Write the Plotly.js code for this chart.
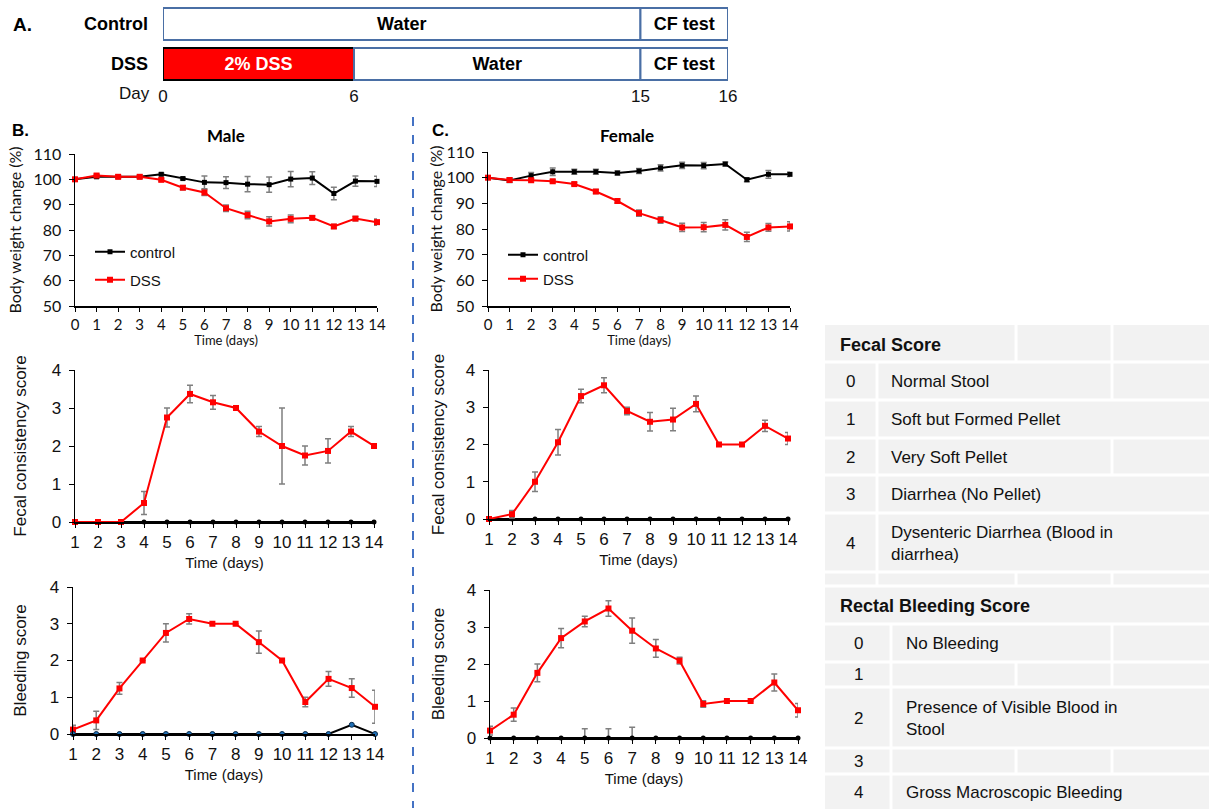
<!DOCTYPE html>
<html><head><meta charset="utf-8">
<script src="https://cdn.plot.ly/plotly-3.0.1.min.js"></script>
<style>html,body{margin:0;padding:0;background:#fff}#chart{width:1209px;height:809px}</style>
</head><body><div id="chart"></div>
<script>
// ================= DATA =================
const weightDays = [0,1,2,3,4,5,6,7,8,9,10,11,12,13,14];
const maleWeightControl    = [100,101,101,101,102,100.3,98.8,98.7,98.1,97.9,100.1,100.5,94.4,99.3,99.2];
const maleWeightControlErr = [0.3,0.5,0.5,0.5,0.5,0.5,2.5,2.3,3,3,3,2.5,2.5,2,2];
const maleWeightDSS        = [100,101.5,101,101,99.8,96.7,94.8,88.6,85.9,83.4,84.4,84.8,81.4,84.5,83.1];
const maleWeightDSSErr     = [0.3,0.5,0.5,0.5,0.5,0.8,1.2,1.3,1.5,1.8,1.5,0.8,0.8,0.8,1.2];
const femaleWeightControl    = [100,98.9,100.8,102.3,102.3,102.3,101.8,102.6,103.8,104.8,104.7,105.3,99.2,101.3,101.3];
const femaleWeightControlErr = [0.4,0.8,1.2,1.5,1,1,0.8,1,1.2,1.2,1.2,0.8,0.8,1.5,0.8];
const femaleWeightDSS        = [100,99.1,99,98.6,97.5,94.6,90.9,86.2,83.5,80.6,80.7,81.6,76.9,80.6,81.0];
const femaleWeightDSSErr     = [0.3,0.8,0.6,0.6,0.6,0.8,0.8,1.2,1.3,1.6,1.8,2,1.8,1.5,1.8];

const scoreDays = [1,2,3,4,5,6,7,8,9,10,11,12,13,14];
const maleFecalControl    = [0,0,0,0,0,0,0,0,0,0,0,0,0,0];
const maleFecalDSS        = [0,0,0,0.5,2.75,3.37,3.15,3.0,2.38,2.0,1.75,1.87,2.38,2.0];
const maleFecalDSSErr     = [0,0,0,0.3,0.25,0.23,0.18,0,0.13,1.0,0.25,0.32,0.13,0];
const femaleFecalControl  = [0,0,0,0,0,0,0,0,0,0,0,0,0,0];
const femaleFecalDSS      = [0,0.13,1.0,2.06,3.3,3.59,2.9,2.61,2.67,3.09,2.0,2.0,2.5,2.16];
const femaleFecalDSSErr   = [0,0.1,0.26,0.34,0.18,0.2,0.1,0.25,0.3,0.21,0,0,0.15,0.16];

const maleBleedControl    = [0,0,0,0,0,0,0,0,0,0,0,0,0.25,0];
const maleBleedDSS        = [0.12,0.37,1.24,2.0,2.75,3.13,3.0,3.0,2.5,2.0,0.87,1.5,1.25,0.74];
const maleBleedDSSErr     = [0.12,0.25,0.16,0,0.25,0.14,0,0,0.3,0,0.13,0.2,0.25,0.45];
const femaleBleedControl    = [0,0,0,0,0,0,0,0,0,0,0,0,0,0];
const femaleBleedControlErr = [0,0,0,0,0.25,0.25,0.29,0,0,0,0,0,0,0];
const femaleBleedDSS      = [0.2,0.63,1.76,2.7,3.15,3.5,2.9,2.42,2.09,0.92,1.0,1.0,1.5,0.75];
const femaleBleedDSSErr   = [0.12,0.18,0.24,0.26,0.14,0.21,0.34,0.24,0.09,0.09,0,0,0.23,0.18];

// Timeline (panel A)
const timelineRows   = ['Control','DSS'];
const segmentRow     = ['Control','Control','DSS','DSS','DSS'];
const segmentStart   = [0,15,0,6,15];
const segmentEnd     = [15,16,6,15,16];
const segmentLabel   = ['Water','CF test','2% DSS','Water','CF test'];
const timelineDays   = [0,6,15,16];

// Score tables
const fecalScores = ['0','1','2','3','4'];
const fecalDescriptions = ['Normal Stool','Soft but Formed Pellet','Very Soft Pellet','Diarrhea (No Pellet)','Dysenteric Diarrhea (Blood in<br>diarrhea)'];
const bleedingScores = ['0','1','2','3','4'];
const bleedingDescriptions = ['No Bleeding','','Presence of Visible Blood in<br>Stool','','Gross Macroscopic Bleeding'];

// ================= LAYOUT HELPERS =================
const W = 1209, H = 809;
const fx = p => p / W;
const fy = p => 1 - p / H;
const dx = (a,b) => [a/W, b/W];
const dy = (top,bot) => [1 - bot/H, 1 - top/H];
// schematic (non-linear) placement of timeline days: CF test box drawn wider
const schematicPos = d => d <= 15 ? d : 15 + (d - 15) * 2.75;

const RED = '#ff0000', GREY_ERR = '#7f7f7f';
const ARIAL = 'Liberation Sans, Arial, sans-serif';
const CAL = 'Lato, Open Sans, sans-serif';

function errObj(arr, minus){
  const o = {type:'data', array: arr, visible:true, color:GREY_ERR, thickness:1.5, width:3};
  if (minus) { o.symmetric = false; o.arrayminus = minus; }
  return o;
}
function ctrlTrace(x, y, xa, ya, err, opts){
  opts = opts || {};
  return Object.assign({
    type:'scatter', mode:'lines+markers', x, y, xaxis:xa, yaxis:ya, name:'control',
    line:{color:'#000', width:2}, marker:{color:'#000', size:5, symbol: opts.symbol || 'circle'},
    error_y: err, cliponaxis:false, showlegend:false
  }, opts.extra || {});
}
function dssTrace(x, y, xa, ya, err, extra){
  return Object.assign({
    type:'scatter', mode:'lines+markers', x, y, xaxis:xa, yaxis:ya, name:'DSS',
    line:{color:RED, width:2}, marker:{color:RED, size:6, symbol:'square'},
    error_y: err, cliponaxis:false, showlegend:false
  }, extra || {});
}

const traces = [
  ctrlTrace(weightDays, maleWeightControl, 'x', 'y', errObj(maleWeightControlErr), {symbol:'square', extra:{showlegend:true, legend:'legend'}}),
  dssTrace(weightDays, maleWeightDSS, 'x', 'y', errObj(maleWeightDSSErr), {showlegend:true, legend:'legend2'}),
  ctrlTrace(weightDays, femaleWeightControl, 'x2', 'y2', errObj(femaleWeightControlErr), {symbol:'square', extra:{showlegend:true, legend:'legend3'}}),
  dssTrace(weightDays, femaleWeightDSS, 'x2', 'y2', errObj(femaleWeightDSSErr), {showlegend:true, legend:'legend4'}),
  ctrlTrace(scoreDays, maleFecalControl, 'x3', 'y3', undefined),
  dssTrace(scoreDays, maleFecalDSS, 'x3', 'y3', errObj(maleFecalDSSErr)),
  ctrlTrace(scoreDays, femaleFecalControl, 'x4', 'y4', undefined),
  dssTrace(scoreDays, femaleFecalDSS, 'x4', 'y4', errObj(femaleFecalDSSErr)),
  dssTrace(scoreDays, maleBleedDSS, 'x5', 'y5', errObj(maleBleedDSSErr)),
  ctrlTrace(scoreDays, maleBleedControl, 'x5', 'y5', undefined, {extra:{marker:{color:'#1f6fb5', size:5, line:{color:'#0a2a4a', width:1}}}}),
  ctrlTrace(scoreDays, femaleBleedControl, 'x6', 'y6', errObj(femaleBleedControlErr, femaleBleedControl.map(()=>0))),
  dssTrace(scoreDays, femaleBleedDSS, 'x6', 'y6', errObj(femaleBleedDSSErr)),
  {
    type:'bar', orientation:'h', xaxis:'x7', yaxis:'y7', showlegend:false,
    y: segmentRow,
    base: segmentStart.map(schematicPos),
    x: segmentEnd.map((e,i)=>schematicPos(e) - schematicPos(segmentStart[i])),
    text: segmentLabel, textposition:'inside', insidetextanchor:'middle', textangle:0,
    constraintext:'none',
    textfont:{family:ARIAL, size:18, weight:'bold', color: segmentLabel.map(l => l.indexOf('DSS')>=0 ? '#fff' : '#000')},
    marker:{color: segmentLabel.map(l => l.indexOf('DSS')>=0 ? RED : '#fff'),
            line:{color: segmentLabel.map(l => l.indexOf('DSS')>=0 ? '#000' : '#4a6fa5'), width:2}},
    width:0.8, hoverinfo:'skip'
  }
];

function xAx(domain, range, anchor, ticks, fontFam, tickSize, titleText, titleSize, standoff){
  return {domain, range, anchor, tickvals:ticks, showline:true, linecolor:'#000', linewidth:1.5,
    ticks:'outside', ticklen:4, tickcolor:'#000', showgrid:false, zeroline:false, fixedrange:true,
    automargin:false, tickfont:{family:fontFam, size:tickSize, color:'#111'},
    title:{text:titleText, font:{family:fontFam, size:titleSize, color:'#111'}, standoff:standoff}};
}
function yAx(domain, range, anchor, dtick, fontFam, tickSize, titleText, titleSize, standoff){
  return {domain, range, anchor, dtick, tick0:0, showline:true, linecolor:'#000', linewidth:1.5,
    ticks:'outside', ticklen:5, tickcolor:'#000', showgrid:false, zeroline:false, fixedrange:true,
    automargin:false, ticklabelstandoff:4, tickfont:{family:fontFam, size:tickSize, color:'#111'},
    title:{text:titleText, font:{family:fontFam, size:titleSize, color:'#111'}, standoff:standoff}};
}

const layout = {
  width:W, height:H, margin:{l:0,r:0,t:0,b:0}, paper_bgcolor:'#fff', plot_bgcolor:'rgba(0,0,0,0)',
  bargap:0.2,
  xaxis:  xAx(dx(75,377), [0,14], 'y', weightDays, CAL, 15, 'Time (days)', 13, 0),
  yaxis:  yAx(dy(154,306), [50,110], 'x', 10, CAL, 16, 'Body weight change (%)', 16, 8),
  xaxis2: xAx(dx(488,790), [0,14], 'y2', weightDays, CAL, 15, 'Time (days)', 13, 0),
  yaxis2: yAx(dy(152,306), [50,110], 'x2', 10, CAL, 16, 'Body weight change (%)', 16, 0),
  xaxis3: xAx(dx(75,374), [1,14], 'y3', scoreDays, ARIAL, 17, 'Time (days)', 15, 6),
  yaxis3: yAx(dy(370,522), [0,4], 'x3', 1, ARIAL, 17, 'Fecal consistency score', 17, 20),
  xaxis4: xAx(dx(489,788), [1,14], 'y4', scoreDays, ARIAL, 17, 'Time (days)', 15, 6),
  yaxis4: yAx(dy(370,519), [0,4], 'x4', 1, ARIAL, 17, 'Fecal consistency score', 17, 16),
  xaxis5: xAx(dx(73,375), [1,14], 'y5', scoreDays, ARIAL, 17, 'Time (days)', 15, 6),
  yaxis5: yAx(dy(587,734), [0,4], 'x5', 1, ARIAL, 17, 'Bleeding score', 17, 18),
  xaxis6: xAx(dx(490,798), [1,14], 'y6', scoreDays, ARIAL, 17, 'Time (days)', 15, 6),
  yaxis6: yAx(dy(590,738), [0,4], 'x6', 1, ARIAL, 17, 'Bleeding score', 17, 17),
  xaxis7: {domain:dx(163,728), range:[0, schematicPos(16)], anchor:'y7', showline:false, showgrid:false,
           zeroline:false, ticks:'', tickvals: timelineDays.map(schematicPos), ticktext: timelineDays.map(String),
           tickfont:{family:ARIAL, size:17, color:'#111'}, fixedrange:true, automargin:false},
  yaxis7: {domain:dy(4,84), range:[-0.5,1.5], anchor:'x7', type:'category', categoryorder:'array',
           categoryarray:['DSS','Control'], showline:false, showgrid:false, zeroline:false, ticks:'',
           ticklabelstandoff:14, tickfont:{family:ARIAL, size:18, weight:'bold', color:'#000'},
           fixedrange:true, automargin:false},
  legend:  {x:fx(90), y:fy(252), xanchor:'left', yanchor:'middle', bgcolor:'rgba(0,0,0,0)', font:{family:ARIAL, size:15, color:'#111'}},
  legend2: {x:fx(90), y:fy(280), xanchor:'left', yanchor:'middle', bgcolor:'rgba(0,0,0,0)', font:{family:ARIAL, size:15, color:'#111'}},
  legend3: {x:fx(503), y:fy(255), xanchor:'left', yanchor:'middle', bgcolor:'rgba(0,0,0,0)', font:{family:ARIAL, size:15, color:'#111'}},
  legend4: {x:fx(503), y:fy(279), xanchor:'left', yanchor:'middle', bgcolor:'rgba(0,0,0,0)', font:{family:ARIAL, size:15, color:'#111'}},
  shapes: [],
  annotations: []
};

const A = layout.annotations, S = layout.shapes;
function ann(text, x, y, size, opts){
  A.push(Object.assign({text, x:fx(x), y:fy(y), xref:'paper', yref:'paper', showarrow:false,
    xanchor:'center', yanchor:'middle', font:{family:ARIAL, size, color:'#000'}}, opts||{}));
}
ann('<b>A.</b>', 22, 25, 19);
ann('Day', 152, 93, 17, {xanchor:'right', font:{family:ARIAL, size:17, color:'#111'}});
ann('<b>B.</b>', 20, 130, 17);
ann('<b>Male</b>', 226, 135, 17, {font:{family:CAL, size:17, color:'#000'}});
ann('<b>C.</b>', 440, 130, 17);
ann('<b>Female</b>', 627, 135, 17, {font:{family:CAL, size:17, color:'#000'}});

S.push({type:'line', xref:'paper', yref:'paper', x0:fx(413), x1:fx(413), y0:fy(117), y1:fy(808),
        line:{color:'#4472c4', width:2, dash:'dash'}});

const TL = 825, TR = 1209;
S.push({type:'rect', xref:'paper', yref:'paper', x0:fx(TL), x1:fx(TR), y0:fy(325), y1:fy(809),
        fillcolor:'#f2f2f2', line:{width:0}, layer:'below'});
const hLines = [362,400,438,475,513,572,586,624,662,687,748,774];
hLines.forEach(y => S.push({type:'line', xref:'paper', yref:'paper', x0:fx(TL), x1:fx(TR), y0:fy(y), y1:fy(y),
  line:{color:'#fff', width:3}}));
const vSeg = [
  [1016,325,362],[1112,325,362],
  [877,362,586],[1112,362,400],[1112,438,475],
  [1016,572,586],[1112,572,586],
  [891,624,809],[1112,624,662],[1016,662,687],[1112,662,687],[1016,748,774],[1112,748,774]
];
vSeg.forEach(v => S.push({type:'line', xref:'paper', yref:'paper', x0:fx(v[0]), x1:fx(v[0]), y0:fy(v[1]), y1:fy(v[2]),
  line:{color:'#fff', width:3}}));

ann('<b>Fecal Score</b>', 838, 345, 18, {xanchor:'left', font:{family:ARIAL, size:18, color:'#111'}});
const fecalRowMid = [381,419,457,494,543];
fecalScores.forEach((s,i) => {
  ann(s, 850, fecalRowMid[i], 17, {font:{family:ARIAL, size:17, color:'#111'}});
  ann(fecalDescriptions[i], 889, fecalRowMid[i], 17, {xanchor:'left', align:'left', font:{family:ARIAL, size:17, color:'#111'}});
});
ann('<b>Rectal Bleeding Score</b>', 838, 606, 18, {xanchor:'left', font:{family:ARIAL, size:18, color:'#111'}});
const bleedRowMid = [643,674,718,761,792];
bleedingScores.forEach((s,i) => {
  ann(s, 858, bleedRowMid[i], 17, {font:{family:ARIAL, size:17, color:'#111'}});
  if (bleedingDescriptions[i]) ann(bleedingDescriptions[i], 904, bleedRowMid[i], 17, {xanchor:'left', align:'left', font:{family:ARIAL, size:17, color:'#111'}});
});

Plotly.newPlot('chart', traces, layout, {staticPlot:true, displayModeBar:false});
</script>
</body></html>
